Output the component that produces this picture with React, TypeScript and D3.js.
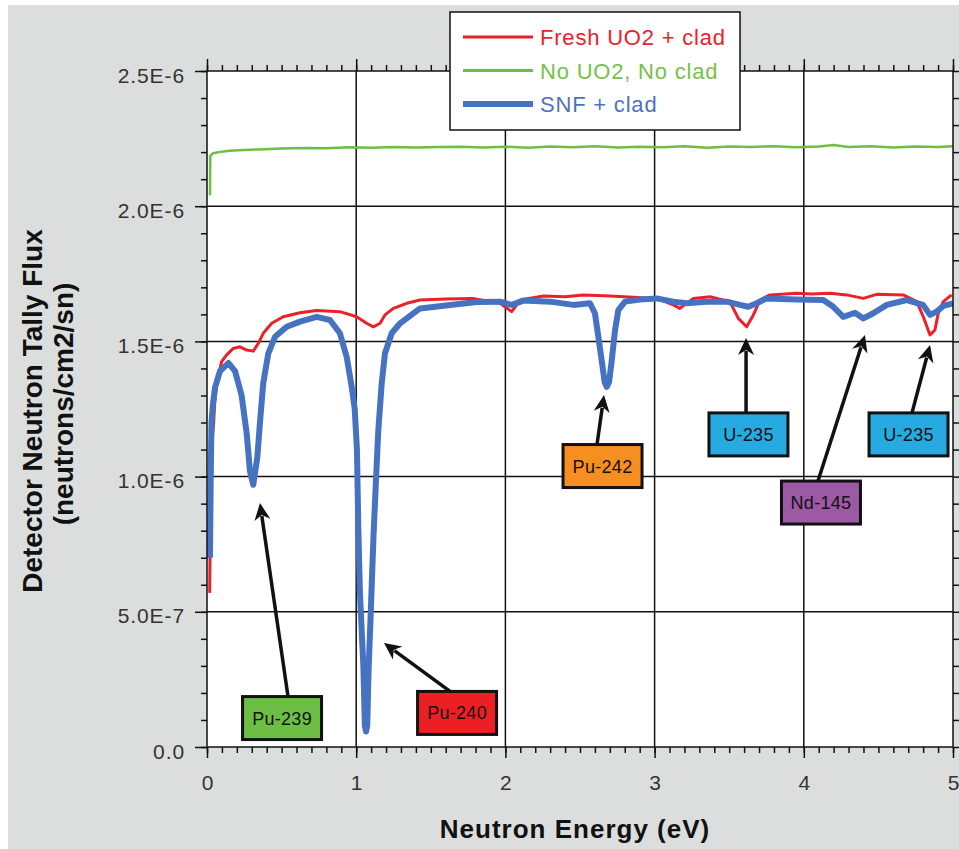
import React, { useEffect, useRef } from "react";
import * as d3 from "d3";

// flux values in units of 1E-6 neutrons/cm2/sn
const freshEnergy = [0.018, 0.02, 0.03, 0.033, 0.045, 0.05, 0.065, 0.098, 0.132, 0.176, 0.221, 0.266, 0.31, 0.344, 0.377, 0.434, 0.511, 0.623, 0.735, 0.891, 1.003, 1.07, 1.115, 1.16, 1.193, 1.249, 1.338, 1.428, 1.6, 1.78, 1.964, 2.042, 2.1, 2.254, 2.4, 2.522, 2.7, 2.857, 3.014, 3.125, 3.17, 3.26, 3.371, 3.505, 3.561, 3.617, 3.662, 3.706, 3.773, 3.952, 4.05, 4.176, 4.287, 4.399, 4.488, 4.667, 4.757, 4.801, 4.846, 4.879, 4.901, 4.935, 4.991];
const freshFlux = [0.57, 0.7, 0.98, 1.12, 1.2, 1.26, 1.345, 1.425, 1.45, 1.474, 1.48, 1.468, 1.464, 1.493, 1.53, 1.567, 1.591, 1.606, 1.614, 1.61, 1.591, 1.567, 1.554, 1.567, 1.598, 1.622, 1.641, 1.653, 1.657, 1.659, 1.641, 1.61, 1.653, 1.668, 1.665, 1.672, 1.668, 1.663, 1.659, 1.635, 1.622, 1.659, 1.665, 1.647, 1.585, 1.554, 1.598, 1.653, 1.672, 1.678, 1.675, 1.678, 1.672, 1.659, 1.674, 1.672, 1.647, 1.591, 1.524, 1.542, 1.604, 1.647, 1.672];

const blankEnergy = [0.02, 0.022, 0.04, 0.08, 0.15, 0.25, 0.35, 0.5, 0.65, 0.8, 0.95, 1.1, 1.25, 1.4, 1.55, 1.7, 1.85, 2.0, 2.15, 2.3, 2.45, 2.6, 2.75, 2.9, 3.05, 3.2, 3.35, 3.5, 3.65, 3.8, 3.95, 4.1, 4.2, 4.3, 4.45, 4.6, 4.75, 4.9, 5.0];
const blankFlux = [2.04, 2.185, 2.196, 2.2, 2.205, 2.208, 2.21, 2.213, 2.215, 2.214, 2.218, 2.216, 2.219, 2.217, 2.219, 2.22, 2.217, 2.22, 2.216, 2.221, 2.218, 2.222, 2.217, 2.22, 2.218, 2.222, 2.216, 2.221, 2.219, 2.222, 2.218, 2.221, 2.226, 2.219, 2.222, 2.217, 2.221, 2.219, 2.222];

const snfEnergy = [0.02, 0.025, 0.03, 0.04, 0.054, 0.087, 0.143, 0.188, 0.232, 0.266, 0.288, 0.31, 0.337, 0.355, 0.377, 0.411, 0.456, 0.534, 0.623, 0.735, 0.824, 0.891, 0.936, 0.97, 0.99, 1.005, 1.014, 1.025, 1.048, 1.058, 1.066, 1.074, 1.083, 1.099, 1.116, 1.132, 1.148, 1.171, 1.193, 1.238, 1.294, 1.383, 1.428, 1.63, 1.81, 1.964, 2.042, 2.12, 2.299, 2.455, 2.567, 2.6, 2.623, 2.645, 2.665, 2.679, 2.695, 2.713, 2.735, 2.757, 2.802, 2.902, 3.014, 3.125, 3.215, 3.349, 3.483, 3.572, 3.628, 3.684, 3.751, 3.952, 4.131, 4.198, 4.265, 4.343, 4.399, 4.466, 4.556, 4.69, 4.799, 4.846, 4.89, 4.935, 5.0];
const snfFlux = [0.7, 1.0, 1.2, 1.27, 1.33, 1.39, 1.42, 1.39, 1.3, 1.16, 1.02, 0.97, 1.07, 1.2, 1.345, 1.456, 1.517, 1.554, 1.573, 1.591, 1.579, 1.53, 1.443, 1.332, 1.25, 1.1, 0.815, 0.57, 0.3, 0.08, 0.057, 0.08, 0.285, 0.52, 0.78, 0.98, 1.17, 1.345, 1.456, 1.53, 1.567, 1.604, 1.622, 1.635, 1.646, 1.647, 1.635, 1.651, 1.647, 1.635, 1.641, 1.604, 1.517, 1.431, 1.35, 1.332, 1.35, 1.431, 1.542, 1.616, 1.647, 1.655, 1.659, 1.647, 1.641, 1.647, 1.647, 1.635, 1.628, 1.641, 1.659, 1.655, 1.653, 1.628, 1.591, 1.606, 1.585, 1.604, 1.635, 1.653, 1.635, 1.598, 1.61, 1.631, 1.641];

const seriesNames = ["Fresh UO2 + clad", "No UO2, No clad", "SNF + clad"];
const seriesColors = ["#ec2127", "#6dbe45", "#4672c2"];
const legendTextColors = ["#ec2127", "#77c04a", "#4e72bf"];

const xTickValues = [0, 1, 2, 3, 4, 5];
const xTickLabels = ["0", "1", "2", "3", "4", "5"];
const yTickValues = [0, 0.5, 1.0, 1.5, 2.0, 2.5];
const yTickLabels = ["0.0", "5.0E-7", "1.0E-6", "1.5E-6", "2.0E-6", "2.5E-6"];

const markerLabels = ["Pu-239", "Pu-240", "Pu-242", "U-235", "U-235", "Nd-145"];
const markerColors = ["#6dbe45", "#ec2024", "#f68e22", "#27a9e1", "#27a9e1", "#9c59a4"];
const markerBoxEnergy = [0.503, 1.676, 2.651, 3.629, 4.702, 4.115];
const markerBoxFlux = [0.107, 0.126, 1.039, 1.156, 1.156, 0.904];
const markerTailEnergy = [0.543, 1.629, 2.614, 3.613, 4.725, 4.095];
const markerTipEnergy = [0.355, 1.186, 2.661, 3.613, 4.846, 4.41];
const markerTipFlux = [0.902, 0.385, 1.302, 1.513, 1.487, 1.524];

const W = 959;
const H = 849;
const FONT = "'Liberation Sans', Arial, sans-serif";

const App = () => {
  const ref = useRef<SVGSVGElement>(null);

  useEffect(() => {
    const svg = d3.select(ref.current);
    svg.selectAll("*").remove();

    const x = d3.scaleLinear().domain([0, 5]).range([207, 953]);
    const y = d3.scaleLinear().domain([0, 2.5]).range([747, 71]);
    const [left, right] = x.range();
    const [bottom, top] = y.range();

    svg.append("rect").attr("x", 8).attr("y", 5).attr("width", W - 8).attr("height", H - 5).attr("fill", "#dcdedd");
    svg.append("rect").attr("x", left).attr("y", top).attr("width", right - left).attr("height", bottom - top).attr("fill", "#fff");

    svg.append("clipPath").attr("id", "plot-clip")
      .append("rect").attr("x", left).attr("y", top).attr("width", right - left).attr("height", bottom - top);

    const tickStyle = (g) => {
      g.select(".domain").remove();
      g.selectAll("line").attr("stroke", "#111").attr("stroke-width", 1.5);
    };

    // minor ticks on all four sides
    svg.append("g").attr("transform", `translate(0,${bottom})`)
      .call(d3.axisBottom(x).tickValues(x.ticks(50)).tickSize(6).tickFormat(() => "")).call(tickStyle);
    svg.append("g").attr("transform", `translate(0,${top})`)
      .call(d3.axisTop(x).tickValues(x.ticks(50)).tickSize(6).tickFormat(() => "")).call(tickStyle);
    svg.append("g").attr("transform", `translate(${left},0)`)
      .call(d3.axisLeft(y).tickValues(y.ticks(25)).tickSize(6).tickFormat(() => "")).call(tickStyle);
    svg.append("g").attr("transform", `translate(${right},0)`)
      .call(d3.axisRight(y).tickValues(y.ticks(25)).tickSize(7).tickFormat(() => "")).call(tickStyle);

    // major ticks + labels
    const xAxis = svg.append("g").attr("transform", `translate(0,${bottom})`)
      .call(d3.axisBottom(x).tickValues(xTickValues).tickSize(11).tickPadding(17).tickFormat((d, i) => xTickLabels[i]))
      .call(tickStyle);
    xAxis.selectAll("text").attr("font-family", FONT).attr("font-size", 21).attr("fill", "#333");
    svg.append("g").attr("transform", `translate(0,${top})`)
      .call(d3.axisTop(x).tickValues(xTickValues).tickSize(12).tickFormat(() => "")).call(tickStyle);

    const yAxis = svg.append("g").attr("transform", `translate(${left},0)`)
      .call(d3.axisLeft(y).tickValues(yTickValues).tickSize(12).tickPadding(10).tickFormat((d, i) => yTickLabels[i]))
      .call(tickStyle);
    yAxis.selectAll("text").attr("font-family", FONT).attr("font-size", 21).attr("fill", "#333")
      .attr("letter-spacing", 0.9).attr("dy", 11);

    // grid
    const grid = svg.append("g").attr("stroke", "#111").attr("stroke-width", 1.5);
    grid.selectAll(".gx").data(xTickValues.slice(1, -1)).join("line")
      .attr("x1", (d) => x(d)).attr("x2", (d) => x(d)).attr("y1", top).attr("y2", bottom);
    grid.selectAll(".gy").data(yTickValues.slice(1, -1)).join("line")
      .attr("y1", (d) => y(d)).attr("y2", (d) => y(d)).attr("x1", left).attr("x2", right);

    // series
    const line = d3.line<number>().x((d) => x(d[0])).y((d) => y(d[1]));
    const series = [
      { e: blankEnergy, f: blankFlux, color: seriesColors[1], w: 2.5 },
      { e: freshEnergy, f: freshFlux, color: seriesColors[0], w: 3 },
      { e: snfEnergy, f: snfFlux, color: seriesColors[2], w: 6 },
    ];
    const lines = svg.append("g").attr("clip-path", "url(#plot-clip)");
    series.forEach((s) => {
      lines.append("path")
        .datum(d3.zip(s.e, s.f))
        .attr("fill", "none")
        .attr("stroke", s.color)
        .attr("stroke-width", s.w)
        .attr("stroke-linejoin", "round")
        .attr("d", line);
    });

    // plot border
    svg.append("rect").attr("x", left).attr("y", top).attr("width", right - left).attr("height", bottom - top)
      .attr("fill", "none").attr("stroke", "#111").attr("stroke-width", 1.5);

    // annotations
    const boxW = 79;
    const boxH = 43;
    const notes = svg.append("g");
    markerLabels.forEach((label, i) => {
      const cx = x(markerBoxEnergy[i]);
      const cy = y(markerBoxFlux[i]);
      const tx = x(markerTailEnergy[i]);
      const ty = cy - boxH / 2;
      const hx = x(markerTipEnergy[i]);
      const hy = y(markerTipFlux[i]);
      const ang = Math.atan2(hy - ty, hx - tx);
      const headLen = 17;
      const headW = 8;
      const bx = hx - headLen * Math.cos(ang);
      const by = hy - headLen * Math.sin(ang);
      notes.append("line").attr("x1", tx).attr("y1", ty).attr("x2", bx + 4 * Math.cos(ang)).attr("y2", by + 4 * Math.sin(ang))
        .attr("stroke", "#111").attr("stroke-width", 3.5);
      const px = -Math.sin(ang);
      const py = Math.cos(ang);
      notes.append("polygon")
        .attr("points", [
          [hx, hy],
          [bx + headW * px, by + headW * py],
          [bx + 5 * Math.cos(ang), by + 5 * Math.sin(ang)],
          [bx - headW * px, by - headW * py],
        ].map((p) => p.join(",")).join(" "))
        .attr("fill", "#111");
      notes.append("rect").attr("x", cx - boxW / 2).attr("y", cy - boxH / 2).attr("width", boxW).attr("height", boxH)
        .attr("fill", markerColors[i]).attr("stroke", "#111").attr("stroke-width", 3);
      notes.append("text").attr("x", cx).attr("y", cy + 6.5).attr("text-anchor", "middle")
        .attr("font-family", FONT).attr("font-size", 18).attr("letter-spacing", 0.3).attr("fill", "#111")
        .text(label);
    });

    // legend
    const legend = svg.append("g");
    legend.append("rect").attr("x", 450).attr("y", 12).attr("width", 290).attr("height", 118)
      .attr("fill", "#fff").attr("stroke", "#111").attr("stroke-width", 1.5);
    const legendWidths = [3, 3, 6];
    seriesNames.forEach((name, i) => {
      const ly = 37 + i * 33.5;
      legend.append("line").attr("x1", 463).attr("x2", 533).attr("y1", ly).attr("y2", ly)
        .attr("stroke", seriesColors[i]).attr("stroke-width", legendWidths[i]);
      legend.append("text").attr("x", 540).attr("y", ly + 8).attr("font-family", FONT).attr("font-size", 22)
        .attr("letter-spacing", 0.8).attr("fill", legendTextColors[i]).text(name);
    });

    // axis titles
    svg.append("text").attr("x", 575).attr("y", 838).attr("text-anchor", "middle")
      .attr("font-family", FONT).attr("font-size", 26).attr("font-weight", "bold").attr("letter-spacing", 1)
      .attr("fill", "#111").text("Neutron Energy (eV)");
    svg.append("text").attr("transform", "translate(42,411) rotate(-90)").attr("text-anchor", "middle")
      .attr("font-family", FONT).attr("font-size", 28).attr("font-weight", "bold")
      .attr("fill", "#111").text("Detector Neutron Tally Flux");
    svg.append("text").attr("transform", "translate(73,404) rotate(-90)").attr("text-anchor", "middle")
      .attr("font-family", FONT).attr("font-size", 28).attr("font-weight", "bold")
      .attr("fill", "#111").text("(neutrons/cm2/sn)");
  }, []);

  return (
    <svg ref={ref} width={W} height={H} style={{ position: "absolute", left: 0, top: 0, display: "block" }} />
  );
};

export default App;
